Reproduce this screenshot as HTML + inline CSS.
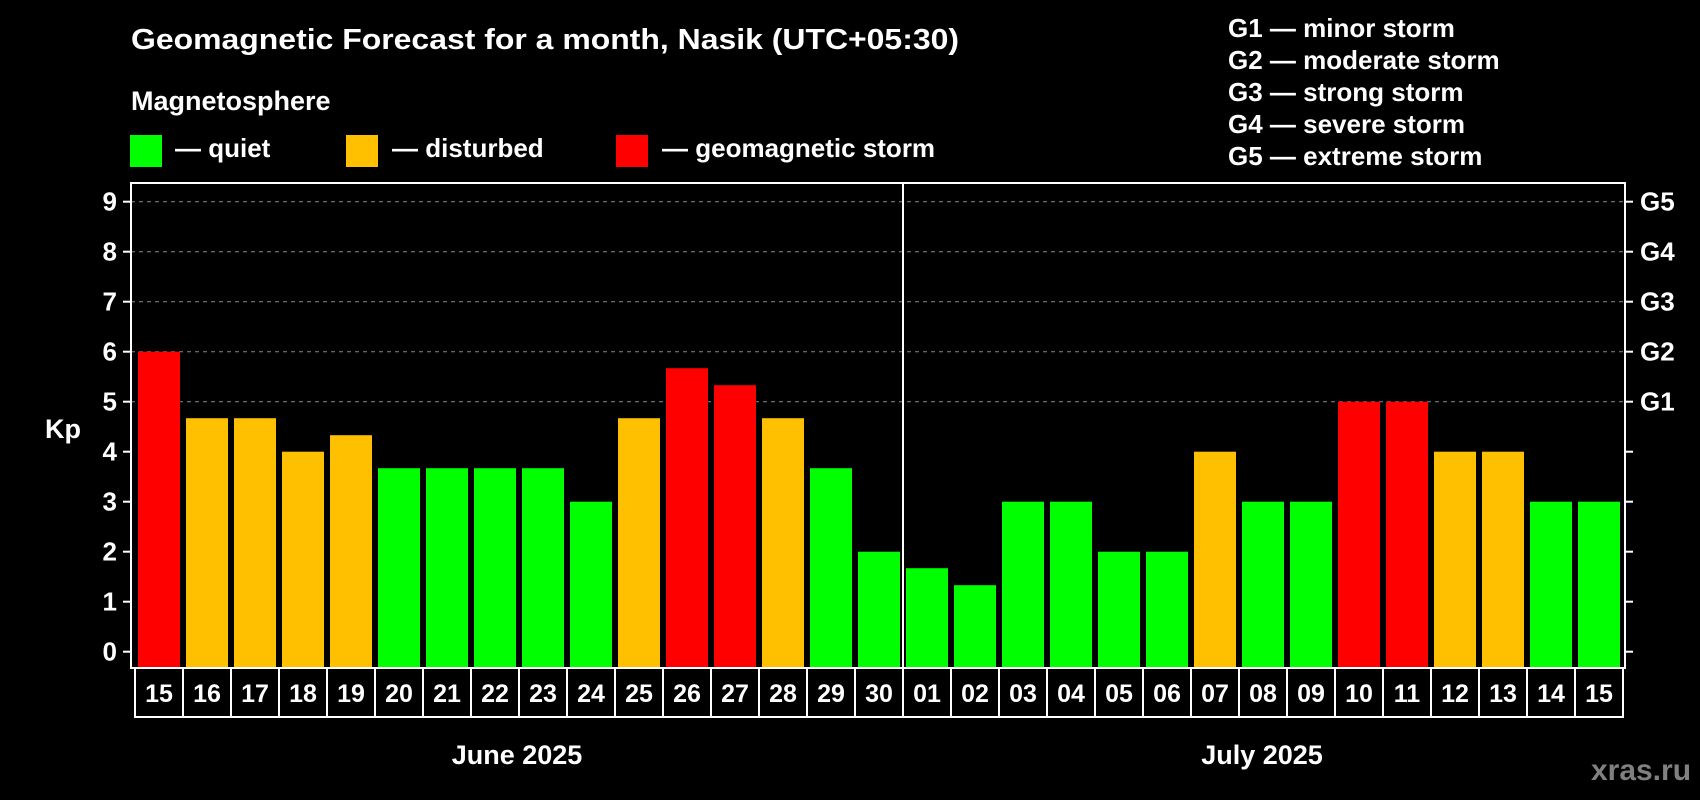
<!DOCTYPE html>
<html><head><meta charset="utf-8"><style>
html,body{margin:0;padding:0;background:#000;width:1700px;height:800px;overflow:hidden}
svg text{font-family:"Liberation Sans",sans-serif;font-weight:bold;fill:#fff}
</style></head><body>
<svg id="chart" width="1700" height="800" xmlns="http://www.w3.org/2000/svg">
<text x="131" y="49" font-size="29" textLength="828" lengthAdjust="spacingAndGlyphs">Geomagnetic Forecast for a month, Nasik (UTC+05:30)</text>
<text x="131" y="110" font-size="27">Magnetosphere</text>
<g><rect x="130" y="135" width="32" height="32" fill="#00ff00"/><text x="175" y="157" font-size="26">— quiet</text></g>
<g><rect x="346" y="135" width="32" height="32" fill="#ffc000"/><text x="392" y="157" font-size="26">— disturbed</text></g>
<g><rect x="616" y="135" width="32" height="32" fill="#ff0000"/><text x="662" y="157" font-size="26">— geomagnetic storm</text></g>
<g font-size="26">
<text x="1228" y="37">G1 — minor storm</text>
<text x="1228" y="69">G2 — moderate storm</text>
<text x="1228" y="101">G3 — strong storm</text>
<text x="1228" y="133">G4 — severe storm</text>
<text x="1228" y="165">G5 — extreme storm</text>
</g>
<g id="grid"></g><g id="bars"></g><g id="axes"></g>
<text x="63" y="438" font-size="27" text-anchor="middle">Kp</text>
<text x="517" y="764" font-size="27" text-anchor="middle">June 2025</text>
<text x="1262" y="764" font-size="27" text-anchor="middle">July 2025</text>
<text x="1641" y="780" font-size="30" text-anchor="middle" style="fill:#808080">xras.ru</text>
</svg>
<script>
const days=["15","16","17","18","19","20","21","22","23","24","25","26","27","28","29","30","01","02","03","04","05","06","07","08","09","10","11","12","13","14","15"];
const kpValues=[6,4.67,4.67,4,4.33,3.67,3.67,3.67,3.67,3,4.67,5.67,5.33,4.67,3.67,2,1.67,1.33,3,3,2,2,4,3,3,5,5,4,4,3,3];
const yTicks=[0,1,2,3,4,5,6,7,8,9];
const gLabels=["","","","","","G1","G2","G3","G4","G5"];
const NS="http://www.w3.org/2000/svg";
const plotLeft=131,plotRight=1625,plotTop=183,plotBottom=668,slot0=135,slotW=48;
const yScale=v=>651.7-v*50;
const xs=i=>slot0+i*slotW;
function mk(t,a,p){const e=document.createElementNS(NS,t);for(const k in a)e.setAttribute(k,a[k]);p.appendChild(e);return e;}
const grid=document.getElementById('grid'),bars=document.getElementById('bars'),axes=document.getElementById('axes');
yTicks.forEach((t,i)=>{
 if(gLabels[i]){const g=mk('line',{x1:plotLeft,x2:plotRight,y1:yScale(t),y2:yScale(t),stroke:'#888','stroke-dasharray':'4,4','stroke-width':1},grid);
 
 }
 const tl=mk('line',{x1:plotLeft-8,x2:plotLeft,y1:yScale(t),y2:yScale(t),stroke:'#fff','stroke-width':2},axes);
 
 
 const tr=mk('line',{x1:plotRight,x2:plotRight+8,y1:yScale(t),y2:yScale(t),stroke:'#fff','stroke-width':2},axes);
 
 
 const lb=mk('text',{x:plotLeft-14,y:yScale(t)+9,'font-size':26,'text-anchor':'end'},axes);lb.textContent=t;
 
 
 if(gLabels[i]){const gl=mk('text',{x:plotRight+15,y:yScale(t)+9,'font-size':26},axes);gl.textContent=gLabels[i];
 
 }
});
kpValues.forEach((v,i)=>{
 const c=v>=5?'#ff0000':(v>=4?'#ffc000':'#00ff00');
 const b=mk('rect',{x:xs(i)+3,y:yScale(v),width:42,height:plotBottom-yScale(v),fill:c},bars);
 
 
 const cell=mk('rect',{x:xs(i),y:plotBottom,width:slotW,height:49,fill:'none',stroke:'#fff','stroke-width':2},axes);
 
 
 const tx=mk('text',{x:xs(i)+slotW/2,y:plotBottom+34,'font-size':25,'text-anchor':'middle'},axes);tx.textContent=days[i];
 
 
});
const fr=mk('rect',{x:plotLeft,y:plotTop,width:plotRight-plotLeft,height:plotBottom-plotTop,fill:'none',stroke:'#fff','stroke-width':2},axes);


const dv=mk('line',{x1:xs(16),x2:xs(16),y1:plotTop,y2:plotBottom,stroke:'#fff','stroke-width':2},axes);


</script>
</body></html>
